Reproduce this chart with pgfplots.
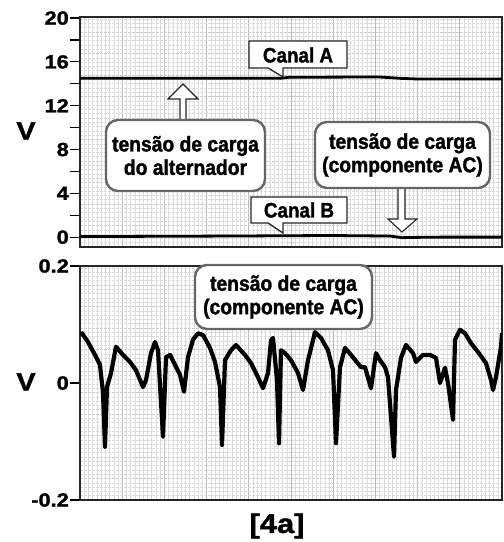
\documentclass[border=0pt]{standalone}
\usepackage{pgfplots}
\pgfplotsset{compat=1.18}
\usepackage{fontspec}
\setmainfont{Liberation Sans Bold}[FakeStretch=0.9, FakeBold=1.5]
\newfontfamily\widefont{Liberation Sans Bold}[FakeStretch=1.15, FakeBold=1.5]
\begin{document}
\begin{tikzpicture}
\path[use as bounding box] (0,0) rectangle (504bp,542bp);
\pgfplotsset{
  gridaxis/.style={anchor=south west, scale only axis, width=422bp,
    xmin=0, xmax=422, ymin=0, xtick distance=42.2, minor x tick num=9,
    ytick distance=21.5, minor y tick num=4, grid=both,
    major x grid style={gray!55, line width=0.8pt},
    minor x grid style={gray!28, line width=0.5pt},
    major y grid style={gray!40, line width=0.6pt, dash pattern=on 3bp off 1bp},
    minor y grid style={gray!28, line width=0.5pt, dash pattern=on 3bp off 1bp},
    xticklabels={}, yticklabels={}, major tick length=0pt, minor tick length=0pt,
    axis line style={draw=none}},
  mainaxis/.style={anchor=south west, scale only axis, width=422bp,
    xmin=0, xmax=422, xtick=\empty, ytick pos=left, tick align=outside,
    major tick length=10bp, minor tick length=10bp,
    every tick/.style={black, line width=1.2pt},
    axis line style={black!85, line width=1.6pt},
    yticklabel style={font=\widefont\fontsize{19}{19}\selectfont, inner sep=1bp},
    axis background/.style={fill=none}}
}
% grids
\begin{axis}[gridaxis, at={(80bp,295bp)}, height=230bp, ymax=230]
\end{axis}
\begin{axis}[gridaxis, at={(80bp,42bp)}, height=234bp, ymax=234]
\end{axis}
% top axis
\begin{axis}[mainaxis, at={(80bp,295bp)}, height=230bp, ymin=-0.9, ymax=20.1,
  ytick={0,4,8,12,16,20}, yticklabels={0,4,8,12,16,20}, minor ytick={2,6,10,14,18}]
\addplot[black, line width=2.8pt] coordinates {(0,14.5)(200,14.5)(210,14.6)(300,14.62)(320,14.5)(340,14.43)(422,14.43)};
\addplot[black, line width=2.8pt] coordinates {(0,0.05)(150,0.1)(250,0.15)(310,0.1)(322,-0.05)(330,-0.03)(360,0.0)(422,0.0)};
\end{axis}
% bottom axis
\begin{axis}[mainaxis, at={(80bp,42bp)}, height=234bp, ymin=-0.2, ymax=0.2,
  ytick={-0.2,0,0.2}, yticklabels={-0.2,0,0.2}]
\addplot[black, line width=4.2pt, line join=round] coordinates {
(0,0.082)(2,0.085)(8,0.070)(15,0.048)(20,0.031)(23,-0.017)(25,-0.109)(27,-0.007)
(31,0.017)(36,0.062)(43,0.048)(50,0.036)(56,0.022)(63,-0.007)(66,0.005)(71,0.051)
(75,0.070)(78,0.056)(83,-0.092)(86,0.044)(90,0.048)(95,0.031)(100,0.014)(104,-0.015)
(108,0.044)(113,0.074)(118,0.085)(123,0.082)(130,0.060)(135,0.036)(140,-0.007)(142,-0.106)
(145,0.039)(151,0.056)(156,0.065)(165,0.048)(171,0.034)(178,0.010)(183,-0.009)(188,0.017)
(191,0.073)(193,0.077)(197,0.005)(199,-0.103)(201,0.056)(205,0.051)(211,0.039)(218,0.017)
(223,-0.012)(228,0.039)(235,0.087)(241,0.077)(248,0.056)(253,0.022)(256,-0.103)(260,0.027)
(265,0.060)(271,0.048)(281,0.027)(285,0.027)(291,-0.009)(296,0.051)(300,0.039)(305,0.027)
(308,0.010)(314,-0.126)(316,-0.012)(321,0.043)(326,0.065)(333,0.051)(336,0.036)(343,0.048)
(350,0.048)(356,0.043)(360,0.000)(365,0.026)(368,0.000)(373,-0.063)(375,0.074)(380,0.091)
(385,0.085)(391,0.068)(398,0.053)(406,0.034)(411,0.005)(413,-0.012)(416,0.010)(421,0.062)(422,0.085)};
\end{axis}
% annotations (pixel coordinates from top-left)
\begin{scope}[x=1bp, y=-1bp, shift={(0bp,542bp)}]
\tikzset{lbl/.style={font=\fontsize{21}{23}\selectfont, align=center, inner sep=0pt},
  blbl/.style={font=\fontsize{21.5}{23.5}\selectfont, align=center, inner sep=0pt},
  bub/.style={draw=black!85, line width=1.3pt, fill=white, line join=miter},
  rbox/.style={draw=black!60, line width=2.4pt, fill=white, rounded corners=12bp}}
% Canal A
\draw[bub] (249,41) -- (347,41) -- (347,68) -- (283,68) -- (283,77) -- (268,68) -- (249,68) -- cycle;
\node[lbl] at (298,55) {Canal A};
% Canal B
\draw[bub] (251,197) -- (347,197) -- (347,223) -- (283,223) -- (283,233) -- (268,223) -- (251,223) -- cycle;
\node[lbl] at (299,210) {Canal B};
% arrows
\draw[bub, line width=1.1pt] (180,122) -- (180,99) -- (168,99) -- (183,84) -- (198,99) -- (186,99) -- (186,122);
\draw[bub, line width=1.1pt] (398,186) -- (398,219) -- (388,219) -- (402,232) -- (417,219) -- (405,219) -- (405,186);
% rounded boxes
\draw[rbox] (106,120) rectangle (265,191);
\node[blbl] at (185.5,155.5) {tensão de carga\\do alternador};
\draw[rbox] (315,122) rectangle (490,188);
\node[blbl] at (402.5,155) {tensão de carga\\(componente AC)};
\draw[rbox] (195,265) rectangle (372,329);
\node[blbl] at (283.5,297) {tensão de carga\\(componente AC)};
% axis labels
\node[font=\widefont\fontsize{25}{25}\selectfont] at (26,131) {V};
\node[font=\widefont\fontsize{25}{25}\selectfont] at (26,382) {V};
\node[font=\widefont\fontsize{27}{27}\selectfont] at (277,526) {[4a]};
\end{scope}
\end{tikzpicture}
\end{document}
